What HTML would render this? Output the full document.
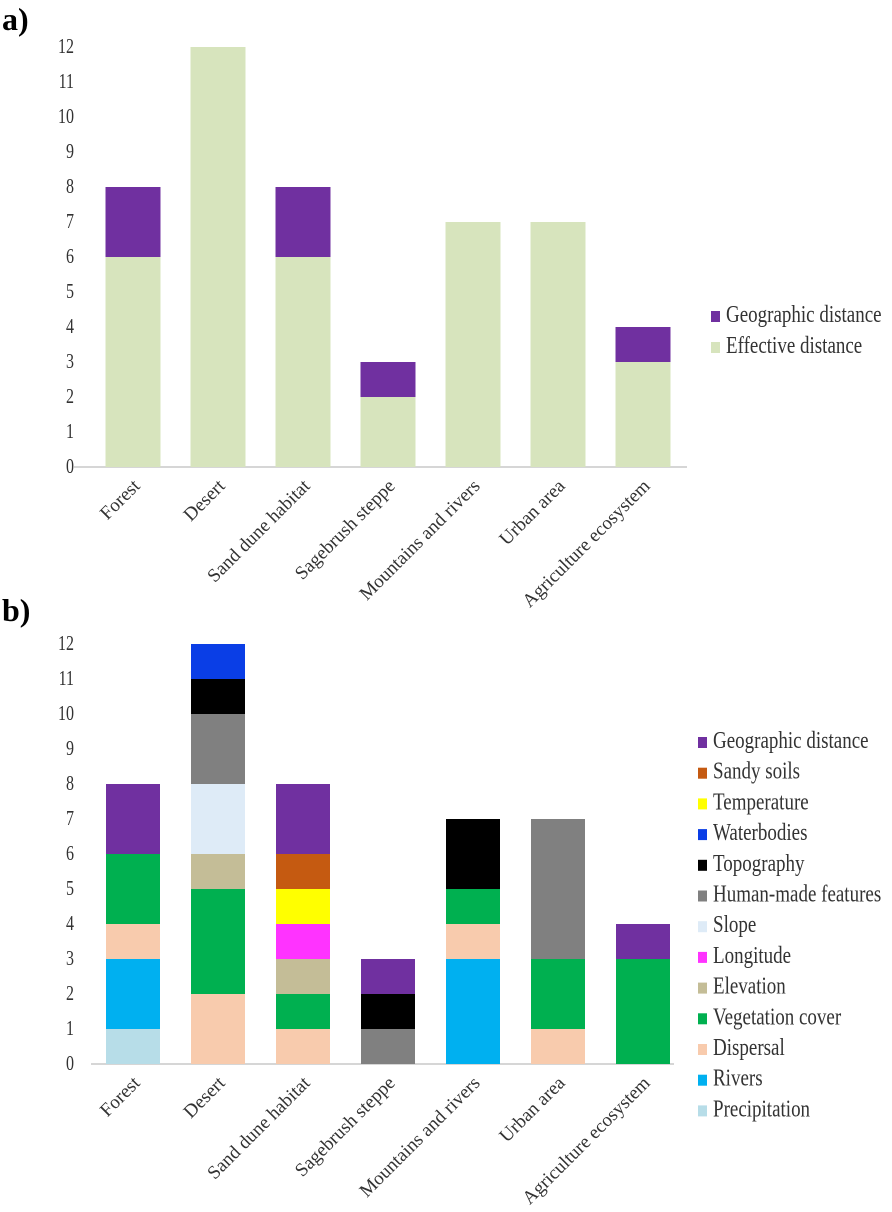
<!DOCTYPE html>
<html><head><meta charset="utf-8"><style>
body{margin:0;background:#fff}
svg{display:block;font-family:"Liberation Serif",serif}
</style></head><body>
<svg id="s" width="892" height="1212">
<text x="2" y="30" font-size="32" font-weight="bold">a)</text>
<text x="2" y="621" font-size="32" font-weight="bold">b)</text>
</svg>
<script>
const categories=["Forest","Desert","Sand dune habitat","Sagebrush steppe","Mountains and rivers","Urban area","Agriculture ecosystem"];
const effectiveA=[6,12,6,2,7,7,3];
const geographicA=[2,0,2,1,0,0,1];
const seriesB=["Precipitation","Rivers","Dispersal","Vegetation cover","Elevation","Longitude","Slope","Human-made features","Topography","Waterbodies","Temperature","Sandy soils","Geographic distance"];
const colorsB=["#b7dde8","#00b0f0","#f8cbad","#00b050","#c4bd97","#ff33ff","#deebf7","#808080","#000000","#0a3ee6","#ffff00","#c55a11","#7030a0"];
const valuesB=[
[1,0,0,0,0,0,0],
[2,0,0,0,3,0,0],
[1,2,1,0,1,1,0],
[2,3,1,0,1,2,3],
[0,1,1,0,0,0,0],
[0,0,1,0,0,0,0],
[0,2,0,0,0,0,0],
[0,2,0,1,0,4,0],
[0,1,0,1,2,0,0],
[0,1,0,0,0,0,0],
[0,0,1,0,0,0,0],
[0,0,1,0,0,0,0],
[2,0,2,1,0,0,1]];
const yTicks=[0,1,2,3,4,5,6,7,8,9,10,11,12];
const svg=document.getElementById('s');const NS="http://www.w3.org/2000/svg";
function el(t,a,p){const e=document.createElementNS(NS,t);for(const k in a)e.setAttribute(k,a[k]);(p||svg).appendChild(e);return e;}
function panel(y0,y12,bw,axX1,axX2,stacks,prefix){
  const y=v=>y0-(y0-y12)*v/12;
  const x=i=>133+85*i;
  yTicks.forEach(t=>{const tx=el('text',{transform:`translate(74,${y(t)+6}) scale(1,1.3)`,'text-anchor':'end','font-size':16,fill:'#333'});tx.textContent=t;
    
    });
  const ax=el('line',{x1:axX1,x2:axX2,y1:y0,y2:y0,stroke:'#c8c8c8','stroke-width':1.5});
  
  
  categories.forEach((c,i)=>{let acc=0;
    stacks.forEach(s=>{const v=s.vals[i];if(!v)return;
      const r=el('rect',{x:x(i)-bw/2,y:y(acc+v),width:bw,height:y(acc)-y(acc+v),fill:s.color});
      
      
      acc+=v;});
    const t=el('text',{transform:`translate(${x(i)+8},${y0+20}) rotate(-45)`,'text-anchor':'end','font-size':19,fill:'#333'});t.textContent=c;
    
    
  });
}
panel(467,47,55,74,687,[{name:"Effective distance",color:"#d7e4bd",vals:effectiveA},{name:"Geographic distance",color:"#7030a0",vals:geographicA}],'a-');
panel(1064,644,54,91,674,seriesB.map((n,k)=>({name:n,color:colorsB[k],vals:valuesB[k]})),'b-');
function legend(items,sx,yStart,step,prefix){items.forEach((it,k)=>{const yy=yStart+k*step;
  const r=el('rect',{x:sx,y:yy-11,width:9,height:11,fill:it[1]});
  
  
  const t=el('text',{transform:`translate(${sx+15},${yy}) scale(1,1.25)`,'font-size':19,fill:'#333'});t.textContent=it[0];
  
  });}
legend([["Geographic distance","#7030a0"],["Effective distance","#d7e4bd"]],711,322,31,'a-');
legend(seriesB.map((n,k)=>[n,colorsB[k]]).reverse(),698,748,30.7,'b-');
</script>
</body></html>
